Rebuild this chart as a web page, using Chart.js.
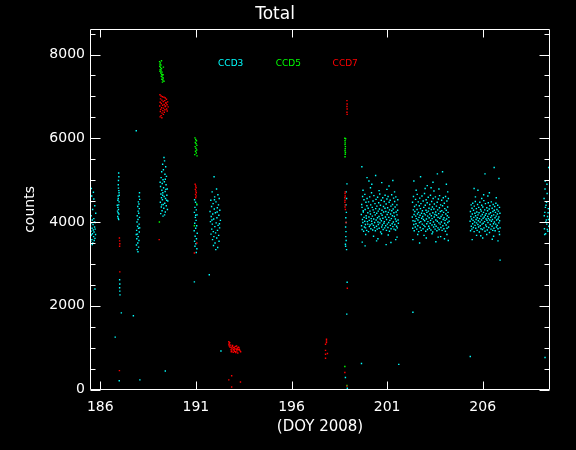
<!DOCTYPE html>
<html>
<head>
<meta charset="utf-8">
<script src="https://cdn.jsdelivr.net/npm/chart.js@4/dist/chart.umd.min.js"></script>
<style>
html,body{margin:0;padding:0;background:#000;}
#wrap{width:576px;height:450px;}
</style>
</head>
<body>
<div id="wrap"><canvas id="c" width="576" height="450"></canvas></div>
<script>
// ---- tick labels ----
const xTickValues = [186, 191, 196, 201, 206];
const yTickValues = [0, 2000, 4000, 6000, 8000];
const yMinorValues = [500, 1000, 1500, 2500, 3000, 3500, 4500, 5000, 5500, 6500, 7000, 7500, 8500];
const legendLabels = ['CCD3', 'CCD5', 'CCD7'];

// ---- CCD3 (cyan) observations: [DOY, counts] ----
const cyanA = [[185.47,3620],[185.48,3910],[185.49,4480],[185.50,3540],[185.51,3780],[185.52,4150],[185.53,3690],[185.54,3980],[185.55,4620],[185.56,3580],[185.57,3850],[185.58,4050],[185.59,3720],[185.60,4300],[185.61,3500],[185.62,3940],[185.63,3810],[185.64,4710],[185.65,3650],[185.66,4080],[185.67,3760],[185.68,3560],[185.69,4000],[185.70,3880],[185.71,4390],[185.72,3610],[185.73,3830],[185.74,3990],[185.75,3700],[185.76,4210],[185.53,4800],[185.58,3460],[185.66,4550],[185.46,3190],[185.72,2400]];
const cyanB = [[186.96,5170],[186.97,5080],[186.95,4990],[186.94,4890],[186.95,4810],[186.97,4750],[186.98,4700],[186.93,4620],[186.94,4560],[186.98,4480],[186.96,4410],[186.92,4350],[186.95,4300],[186.90,4260],[186.93,4220],[186.97,4190],[186.91,4130],[186.94,4090],[186.96,4060],[186.89,4400],[186.99,4640],[186.92,4520],[187.01,2620],[187.02,2520],[187.01,2430],[187.02,2350],[187.03,2260],[187.10,1830],[186.78,1250],[186.99,210]];
const cyanC = [[188.05,4700],[188.03,4610],[188.06,4540],[187.99,4480],[188.02,4430],[187.96,4370],[188.04,4320],[187.98,4260],[188.01,4210],[187.93,4150],[188.05,4110],[187.97,4060],[187.92,4000],[188.03,3950],[187.95,3900],[188.00,3850],[187.90,3800],[188.04,3760],[187.94,3710],[187.98,3650],[187.91,3600],[188.02,3560],[187.96,3500],[187.89,3450],[188.00,3400],[187.93,3340],[187.97,3290],[187.88,3700],[188.06,3860],[187.73,1760],[188.07,230],[187.88,6180]];
const cyanD = [[189.33,5540],[189.36,5460],[189.26,5380],[189.42,5320],[189.30,5250],[189.21,5200],[189.38,5140],[189.46,5090],[189.18,5060],[189.28,5010],[189.35,4960],[189.24,4920],[189.44,4890],[189.15,4850],[189.31,4820],[189.50,4790],[189.22,4760],[189.39,4730],[189.27,4700],[189.17,4670],[189.48,4640],[189.34,4610],[189.20,4580],[189.41,4560],[189.25,4530],[189.53,4500],[189.14,4470],[189.37,4450],[189.29,4420],[189.45,4390],[189.19,4360],[189.32,4330],[189.51,4300],[189.23,4270],[189.40,4240],[189.16,4200],[189.36,4170],[189.28,4140],[189.43,4780],[189.13,4950],[189.47,4520],[189.26,4640],[189.40,5020],[189.21,4410],[189.40,440]];
const cyanE = [[190.93,4530],[190.98,4470],[191.05,4410],[190.95,4350],[191.02,4290],[190.92,4230],[191.06,4170],[190.97,4110],[191.01,4040],[190.94,3970],[191.04,3910],[190.99,3850],[190.91,3790],[191.07,3730],[190.96,3660],[191.03,3600],[190.93,3540],[191.00,3480],[190.95,3420],[191.05,3360],[191.02,3270],[190.92,2570],[190.99,4160]];
const cyanF = [[191.95,5080],[192.08,4790],[191.85,4720],[192.15,4650],[191.98,4600],[192.22,4560],[191.78,4520],[192.05,4480],[191.90,4440],[192.18,4410],[191.82,4370],[192.12,4340],[191.96,4310],[192.25,4280],[191.74,4250],[192.02,4220],[191.88,4190],[192.20,4160],[191.80,4130],[192.10,4100],[191.93,4070],[192.28,4040],[191.76,4010],[192.06,3980],[191.86,3950],[192.16,3920],[191.99,3890],[192.24,3860],[191.83,3830],[192.13,3800],[191.91,3770],[192.03,3740],[191.79,3710],[192.19,3680],[191.94,3650],[192.09,3620],[191.87,3580],[192.21,3540],[192.00,3500],[191.92,3440],[192.14,3390],[192.04,3340],[191.97,4530],[192.11,4240],[191.84,4050],[192.23,3960],[191.70,2740],[192.31,920]];
const cyanG = [[198.90,4910],[198.86,4720],[198.88,4560],[198.85,4410],[198.87,4230],[198.84,4100],[198.86,3990],[198.83,3880],[198.85,3770],[198.84,3650],[198.86,3560],[198.82,3470],[198.83,3420],[198.88,3340],[198.91,2560],[198.89,1800],[198.82,285],[198.92,30]];
const cyanH = [[199.652,4180],[199.664,3910],[199.671,4420],[199.689,4350],[199.694,3820],[199.712,4060],[199.718,4610],[199.733,3990],[199.751,4270],[199.757,4240],[199.772,3780],[199.790,4530],[199.795,4110],[199.813,3880],[199.829,4020],[199.836,4660],[199.852,4300],[199.868,3940],[199.874,3860],[199.893,4470],[199.905,4150],[199.914,4090],[199.931,3800],[199.946,4390],[199.953,4560],[199.970,4010],[199.988,3950],[199.992,4220],[200.011,4330],[200.027,3770],[200.033,4480],[200.049,4120],[200.066,4040],[200.071,3890],[200.090,4600],[200.104,4260],[200.112,3930],[200.129,4190],[200.143,4410],[200.152,3840],[200.168,4080],[200.185,4700],[200.191,4020],[200.207,3960],[200.224,4350],[200.230,4140],[200.247,3810],[200.263,4500],[200.269,4290],[200.286,3920],[200.301,4070],[200.309,4630],[200.324,4230],[200.342,3870],[200.348,3990],[200.365,4440],[200.380,4170],[200.387,3790],[200.403,4320],[200.420,4540],[200.426,4050],[200.443,3900],[200.459,4210],[200.465,4380],[200.482,3830],[200.497,4100],[200.504,4590],[200.521,4000],[200.537,4260],[200.543,3940],[200.560,4460],[200.576,4130],[200.583,3850],[200.599,4310],[200.615,4670],[200.621,3980],[200.638,4070],[200.654,4400],[200.661,3760],[200.677,4200],[200.693,4520],[200.700,4030],[200.716,3880],[200.731,4280],[200.739,4160],[200.755,3930],[200.772,4580],[200.778,4090],[200.794,3820],[200.810,4370],[200.817,4240],[200.833,3970],[200.850,4490],[200.856,4010],[200.872,3860],[200.888,4330],[200.895,4640],[200.911,4120],[200.927,3910],[200.934,4250],[200.950,4430],[200.966,3800],[200.973,4060],[200.989,4550],[201.005,4180],[201.012,3950],[201.028,4340],[201.044,3870],[201.051,4610],[201.067,4230],[201.083,3990],[201.090,4110],[201.106,4470],[201.122,3780],[201.129,4290],[201.145,4040],[201.161,4520],[201.168,3920],[201.184,4190],[201.200,4380],[201.207,3840],[201.223,4080],[201.239,4650],[201.246,4270],[201.262,3960],[201.278,4150],[201.285,4420],[201.301,3890],[201.317,4310],[201.324,4000],[201.340,4570],[201.356,4220],[201.363,3830],[201.379,4130],[201.395,4490],[201.402,3940],[201.418,4360],[201.434,4070],[201.441,3810],[201.457,4600],[201.473,4240],[201.480,4020],[201.496,3900],[201.512,4410],[201.519,4170],[201.535,3860],[201.551,4280],[201.558,4530],[201.574,4050],[201.590,3970],[199.74,4760],[200.13,4820],[200.58,4750],[200.99,4780],[201.39,4720],[199.88,3700],[200.29,3660],[200.71,3720],[201.06,3690],[201.52,3640],[200.52,3600],[199.68,5320],[199.95,5060],[200.05,4980],[200.40,5110],[200.72,4940],[201.10,4860],[201.30,4990],[200.20,4900],[199.70,3520],[199.85,3430],[200.45,3550],[200.95,3460],[201.45,3580],[201.20,3510],[199.66,620],[201.61,600]];
const cyanI = [[202.318,4120],[202.331,4470],[202.340,3850],[202.356,4030],[202.372,4290],[202.379,4610],[202.395,3940],[202.411,4180],[202.418,3790],[202.434,4370],[202.450,4250],[202.457,4020],[202.473,3880],[202.489,4540],[202.496,4140],[202.512,3960],[202.528,4410],[202.535,4080],[202.551,3830],[202.567,4300],[202.574,4660],[202.590,4190],[202.606,3910],[202.613,4050],[202.629,4480],[202.645,4230],[202.652,3770],[202.668,4110],[202.684,4390],[202.691,3990],[202.707,4570],[202.723,4160],[202.730,3870],[202.746,4320],[202.762,4010],[202.769,4440],[202.785,3800],[202.801,4210],[202.808,4090],[202.824,4620],[202.840,3950],[202.847,4270],[202.863,4130],[202.879,3840],[202.886,4500],[202.902,4060],[202.918,4350],[202.925,3920],[202.941,4200],[202.957,4680],[202.964,4030],[202.980,3890],[202.996,4400],[203.003,4170],[203.019,3780],[203.035,4280],[203.042,4530],[203.058,4070],[203.074,3960],[203.081,4230],[203.097,4460],[203.113,3820],[203.120,4140],[203.136,4010],[203.152,4590],[203.159,4260],[203.175,3900],[203.191,4330],[203.198,4100],[203.214,3850],[203.230,4420],[203.237,4190],[203.253,3970],[203.269,4640],[203.276,4040],[203.292,3810],[203.308,4300],[203.315,4150],[203.331,4490],[203.347,3930],[203.354,4080],[203.370,4360],[203.386,3760],[203.393,4220],[203.409,4560],[203.425,4000],[203.432,3880],[203.448,4310],[203.464,4120],[203.471,4430],[203.487,3940],[203.503,4180],[203.510,3830],[203.526,4600],[203.542,4240],[203.549,4050],[203.565,3900],[203.581,4380],[203.588,4160],[203.604,3790],[203.620,4470],[203.627,4020],[203.643,4290],[203.659,3860],[203.666,4110],[203.682,4550],[203.698,4200],[203.705,3980],[203.721,3820],[203.737,4340],[203.744,4630],[203.760,4090],[203.776,3950],[203.783,4250],[203.799,4410],[203.815,3870],[203.822,4130],[203.838,4000],[203.854,4520],[203.861,4270],[203.877,3800],[203.893,4170],[203.900,4390],[203.916,3910],[203.932,4060],[203.939,4580],[203.955,4230],[203.971,3840],[203.978,4100],[203.994,4450],[204.010,3970],[204.017,4320],[204.033,4040],[204.049,3780],[204.056,4610],[204.072,4190],[204.088,3930],[204.095,4280],[204.111,4070],[204.127,4500],[204.134,3850],[204.150,4150],[204.166,4360],[204.173,3990],[204.189,4230],[204.205,4560],[204.212,3880],[204.228,4110],[204.244,4020],[202.52,4760],[202.99,4800],[203.45,4740],[203.71,4790],[204.17,4720],[202.60,3700],[202.93,3680],[203.35,3720],[203.67,3640],[204.13,3700],[202.40,4980],[202.75,5080],[203.10,4870],[203.40,4950],[203.63,5150],[203.90,5200],[203.30,4820],[204.10,4900],[202.35,3580],[202.70,3500],[203.05,3620],[203.55,3530],[204.00,3600],[204.20,3560],[203.80,3650],[202.35,1845]];
const cyanJ = [[205.341,4020],[205.357,4250],[205.364,3790],[205.380,4130],[205.396,4410],[205.403,3900],[205.419,4070],[205.435,3830],[205.442,4330],[205.458,4190],[205.474,3960],[205.481,4450],[205.497,4040],[205.513,3870],[205.520,4280],[205.536,4110],[205.552,3770],[205.559,4380],[205.575,4000],[205.591,4210],[205.598,3920],[205.614,4490],[205.630,4150],[205.637,3850],[205.653,4060],[205.669,4320],[205.676,3980],[205.692,4240],[205.708,3800],[205.715,4100],[205.731,4420],[205.747,3940],[205.754,4170],[205.770,4030],[205.786,3880],[205.793,4350],[205.809,4220],[205.825,3760],[205.832,4080],[205.848,4470],[205.864,4000],[205.871,3910],[205.887,4300],[205.903,4140],[205.910,3840],[205.926,4260],[205.942,4050],[205.949,4400],[205.965,3950],[205.981,4180],[205.988,3820],[206.004,4360],[206.020,4090],[206.027,3970],[206.043,4230],[206.059,4510],[206.066,3860],[206.082,4120],[206.098,4010],[206.105,4290],[206.121,3780],[206.137,4160],[206.144,4440],[206.160,3930],[206.176,4070],[206.183,4200],[206.199,3890],[206.215,4340],[206.222,4040],[206.238,3810],[206.254,4270],[206.261,4130],[206.277,3990],[206.293,4460],[206.300,4080],[206.316,3870],[206.332,4190],[206.339,4310],[206.355,3750],[206.371,4050],[206.378,4390],[206.394,3940],[206.410,4220],[206.417,4110],[206.433,3830],[206.449,4480],[206.456,4020],[206.472,4150],[206.488,3900],[206.495,4330],[206.511,4060],[206.527,3800],[206.534,4250],[206.550,4420],[206.566,3960],[206.573,4170],[206.589,3850],[206.605,4280],[206.612,4000],[206.628,4370],[206.644,4100],[206.651,3790],[206.667,4230],[206.683,3950],[206.690,4450],[206.706,4140],[206.722,3880],[206.729,4050],[206.745,4300],[206.761,3920],[206.768,4190],[206.784,4400],[206.800,3840],[206.807,4070],[206.823,4260],[206.839,3980],[206.846,4120],[206.862,3770],[206.878,4350],[206.885,4030],[206.901,4210],[206.910,3860],[205.62,4600],[205.95,4560],[206.27,4620],[206.71,4580],[205.68,3680],[206.21,3700],[206.57,3660],[206.88,3700],[206.60,5300],[206.12,5150],[206.85,5040],[205.75,4760],[206.35,4700],[205.55,4800],[206.05,4650],[205.45,3580],[206.00,3620],[206.50,3590],[206.80,3550],[205.90,3670],[206.91,3090],[205.35,790]];
const cyanK = [[209.21,4560],[209.23,3840],[209.25,4230],[209.27,4980],[209.29,3720],[209.31,4400],[209.33,4050],[209.35,3950],[209.37,4680],[209.39,4130],[209.41,3780],[209.43,4320],[209.45,5300],[209.46,3900],[209.22,4150],[209.26,4790],[209.30,4000],[209.34,4470],[209.38,3820],[209.42,4220],[209.24,3700],[209.36,4900],[209.44,4060],[209.28,4350],[209.26,765]];

// ---- CCD5 (green) ----
const greenA = [[189.10,7830],[189.14,7800],[189.12,7770],[189.17,7750],[189.11,7720],[189.15,7690],[189.20,7660],[189.13,7640],[189.18,7610],[189.23,7580],[189.16,7560],[189.21,7530],[189.26,7510],[189.19,7480],[189.24,7460],[189.29,7440],[189.22,7410],[189.27,7390],[189.33,7360],[189.25,7340],[189.30,7700],[189.12,7600],[189.20,7850],[189.28,7520],[189.09,4000]];
const greenB = [[190.95,6010],[190.99,5970],[191.03,5940],[190.97,5900],[191.01,5870],[191.05,5830],[190.96,5800],[191.00,5760],[191.04,5720],[190.98,5690],[191.02,5650],[190.94,5610],[191.06,5580],[191.04,4430],[190.92,3910]];
const greenC = [[198.79,6000],[198.83,5990],[198.80,5940],[198.81,5890],[198.80,5850],[198.82,5800],[198.81,5750],[198.80,5700],[198.82,5660],[198.81,5620],[198.80,5560],[198.79,550],[198.90,95]];

// ---- CCD7 (red) ----
const redA = [[189.12,7040],[189.18,7010],[189.25,6990],[189.33,6980],[189.40,6960],[189.15,6940],[189.46,6930],[189.22,6910],[189.37,6900],[189.29,6880],[189.52,6870],[189.13,6860],[189.44,6840],[189.19,6830],[189.34,6810],[189.49,6800],[189.26,6790],[189.11,6770],[189.41,6760],[189.55,6750],[189.21,6730],[189.31,6720],[189.47,6700],[189.16,6690],[189.38,6680],[189.27,6660],[189.50,6650],[189.14,6640],[189.35,6620],[189.23,6600],[189.43,6850],[189.30,6570],[189.18,6540],[189.13,6510],[189.22,6490],[189.39,6770],[189.08,3580]];
const redB = [[187.00,3620],[187.01,3550],[187.02,3480],[187.01,3420],[187.02,2810],[187.00,450],[190.96,4900],[190.99,4860],[191.01,4820],[190.97,4780],[191.00,4740],[191.02,4700],[190.98,4660],[191.01,4620],[190.99,4580],[191.05,3500],[190.92,3260]];
const redC = [[192.72,1140],[192.74,1100],[192.73,1070],[192.77,1120],[192.75,1040],[192.79,1010],[192.82,1060],[192.86,990],[192.84,950],[192.90,1020],[192.93,970],[192.88,920],[192.97,1000],[193.01,940],[193.04,980],[193.07,1030],[193.11,960],[192.95,890],[193.00,1010],[193.14,920],[193.17,990],[193.21,950],[193.09,880],[193.24,1000],[193.03,910],[193.19,870],[193.27,960],[193.13,1040],[192.98,950],[193.06,900],[193.30,930],[193.23,1010],[192.85,900],[193.16,960],[193.34,900],[192.92,1050],[192.72,230],[192.87,330],[193.33,180],[192.87,60]];
const redD = [[197.83,1200],[197.83,1160],[197.83,1120],[197.78,1080],[197.78,935],[197.88,860],[197.78,840],[197.78,745]];
const redE = [[198.90,6900],[198.91,6820],[198.90,6760],[198.91,6700],[198.90,6620],[198.91,6570],[198.81,4720],[198.80,4680],[198.81,4620],[198.79,4580],[198.80,4520],[198.79,4470],[198.81,4410],[198.80,4360],[198.82,4300],[198.85,3990],[198.92,2420],[198.79,405],[198.90,80]];

const toXY = arr => arr.map(p => ({x: p[0], y: p[1]}));
const ccd3 = [].concat(cyanA, cyanB, cyanC, cyanD, cyanE, cyanF, cyanG, cyanH, cyanI, cyanJ, cyanK);
const ccd5 = [].concat(greenA, greenB, greenC);
const ccd7 = [].concat(redA, redB, redC, redD, redE);

const COLORS = ['#00ffff', '#00ff00', '#ff0000'];

const framePlugin = {
  id: 'frame',
  beforeDraw(chart) {
    const ctx = chart.ctx;
    ctx.save();
    ctx.fillStyle = '#000';
    ctx.fillRect(0, 0, chart.width, chart.height);
    ctx.restore();
  },
  afterDatasetsDraw(chart) {
    const {ctx, chartArea: a, scales: {x, y}} = chart;
    ctx.save();
    ctx.strokeStyle = '#ffffff';
    ctx.lineWidth = 1;
    const L = Math.round(a.left) + 0.5, R = Math.round(a.right) - 0.5;
    const T = Math.round(a.top) + 0.5, B = Math.round(a.bottom) - 0.5;
    ctx.beginPath();
    ctx.rect(L, T, R - L, B - T);
    xTickValues.forEach(v => {
      const px = Math.round(x.getPixelForValue(v)) + 0.5;
      ctx.moveTo(px, B); ctx.lineTo(px, B - 8);
      ctx.moveTo(px, T); ctx.lineTo(px, T + 8);
    });
    yTickValues.forEach(v => {
      const py = Math.round(y.getPixelForValue(v)) + 0.5;
      ctx.moveTo(L, py); ctx.lineTo(L + 10, py);
      ctx.moveTo(R, py); ctx.lineTo(R - 10, py);
    });
    yMinorValues.forEach(v => {
      const py = Math.round(y.getPixelForValue(v)) + 0.5;
      ctx.moveTo(L, py); ctx.lineTo(L + 5, py);
      ctx.moveTo(R, py); ctx.lineTo(R - 5, py);
    });
    ctx.stroke();
    // legend labels
    const legendDay = [192.16, 195.17, 198.15];
    ctx.font = '9px "DejaVu Sans"';
    ctx.textAlign = 'left';
    ctx.textBaseline = 'alphabetic';
    legendLabels.forEach((t, i) => {
      ctx.fillStyle = COLORS[i];
      ctx.fillText(t, x.getPixelForValue(legendDay[i]), y.getPixelForValue(7715));
    });
    ctx.restore();
  }
};

const pointCfg = {pointStyle: 'rect', pointRadius: 1, pointBorderWidth: 0, pointHoverRadius: 1, showLine: false};

new Chart(document.getElementById('c'), {
  type: 'scatter',
  data: {
    datasets: [
      Object.assign({label: legendLabels[0], data: toXY(ccd3), backgroundColor: COLORS[0], borderColor: COLORS[0], order: 3}, pointCfg),
      Object.assign({label: legendLabels[1], data: toXY(ccd5), backgroundColor: COLORS[1], borderColor: COLORS[1], order: 2}, pointCfg),
      Object.assign({label: legendLabels[2], data: toXY(ccd7), backgroundColor: COLORS[2], borderColor: COLORS[2], order: 1}, pointCfg)
    ]
  },
  options: {
    responsive: false,
    animation: false,
    events: [],
    layout: {padding: {left: 0, right: 26, top: 0, bottom: 0}},
    plugins: {
      legend: {display: false},
      tooltip: {enabled: false},
      title: {
        display: true,
        text: 'Total',
        color: '#ffffff',
        font: {family: 'DejaVu Sans', size: 17, weight: 'normal'},
        padding: {top: 4, bottom: 5}
      }
    },
    scales: {
      x: {
        type: 'linear',
        min: 185.461,
        max: 209.52,
        grid: {display: false, drawTicks: false},
        border: {display: false},
        afterBuildTicks: s => { s.ticks = xTickValues.map(v => ({value: v})); },
        afterFit: s => { s.height = 60.5; },
        ticks: {color: '#ffffff', padding: 9, font: {family: 'DejaVu Sans', size: 14}, maxRotation: 0, autoSkip: false, callback: v => String(v)},
        title: {display: true, text: '(DOY 2008)', color: '#ffffff', font: {family: 'DejaVu Sans', size: 15}, padding: {top: 0, bottom: 14}}
      },
      y: {
        type: 'linear',
        min: 0,
        max: 8600,
        grid: {display: false, drawTicks: false},
        border: {display: false},
        afterBuildTicks: s => { s.ticks = yTickValues.map(v => ({value: v})); },
        afterFit: s => { s.width = 90; },
        ticks: {color: '#ffffff', padding: 5, font: {family: 'DejaVu Sans', size: 14}, autoSkip: false, callback: v => String(v)},
        title: {display: true, text: 'counts', color: '#ffffff', font: {family: 'DejaVu Sans', size: 14}, padding: {top: 22, bottom: 0}}
      }
    }
  },
  plugins: [framePlugin]
});
</script>
</body>
</html>
